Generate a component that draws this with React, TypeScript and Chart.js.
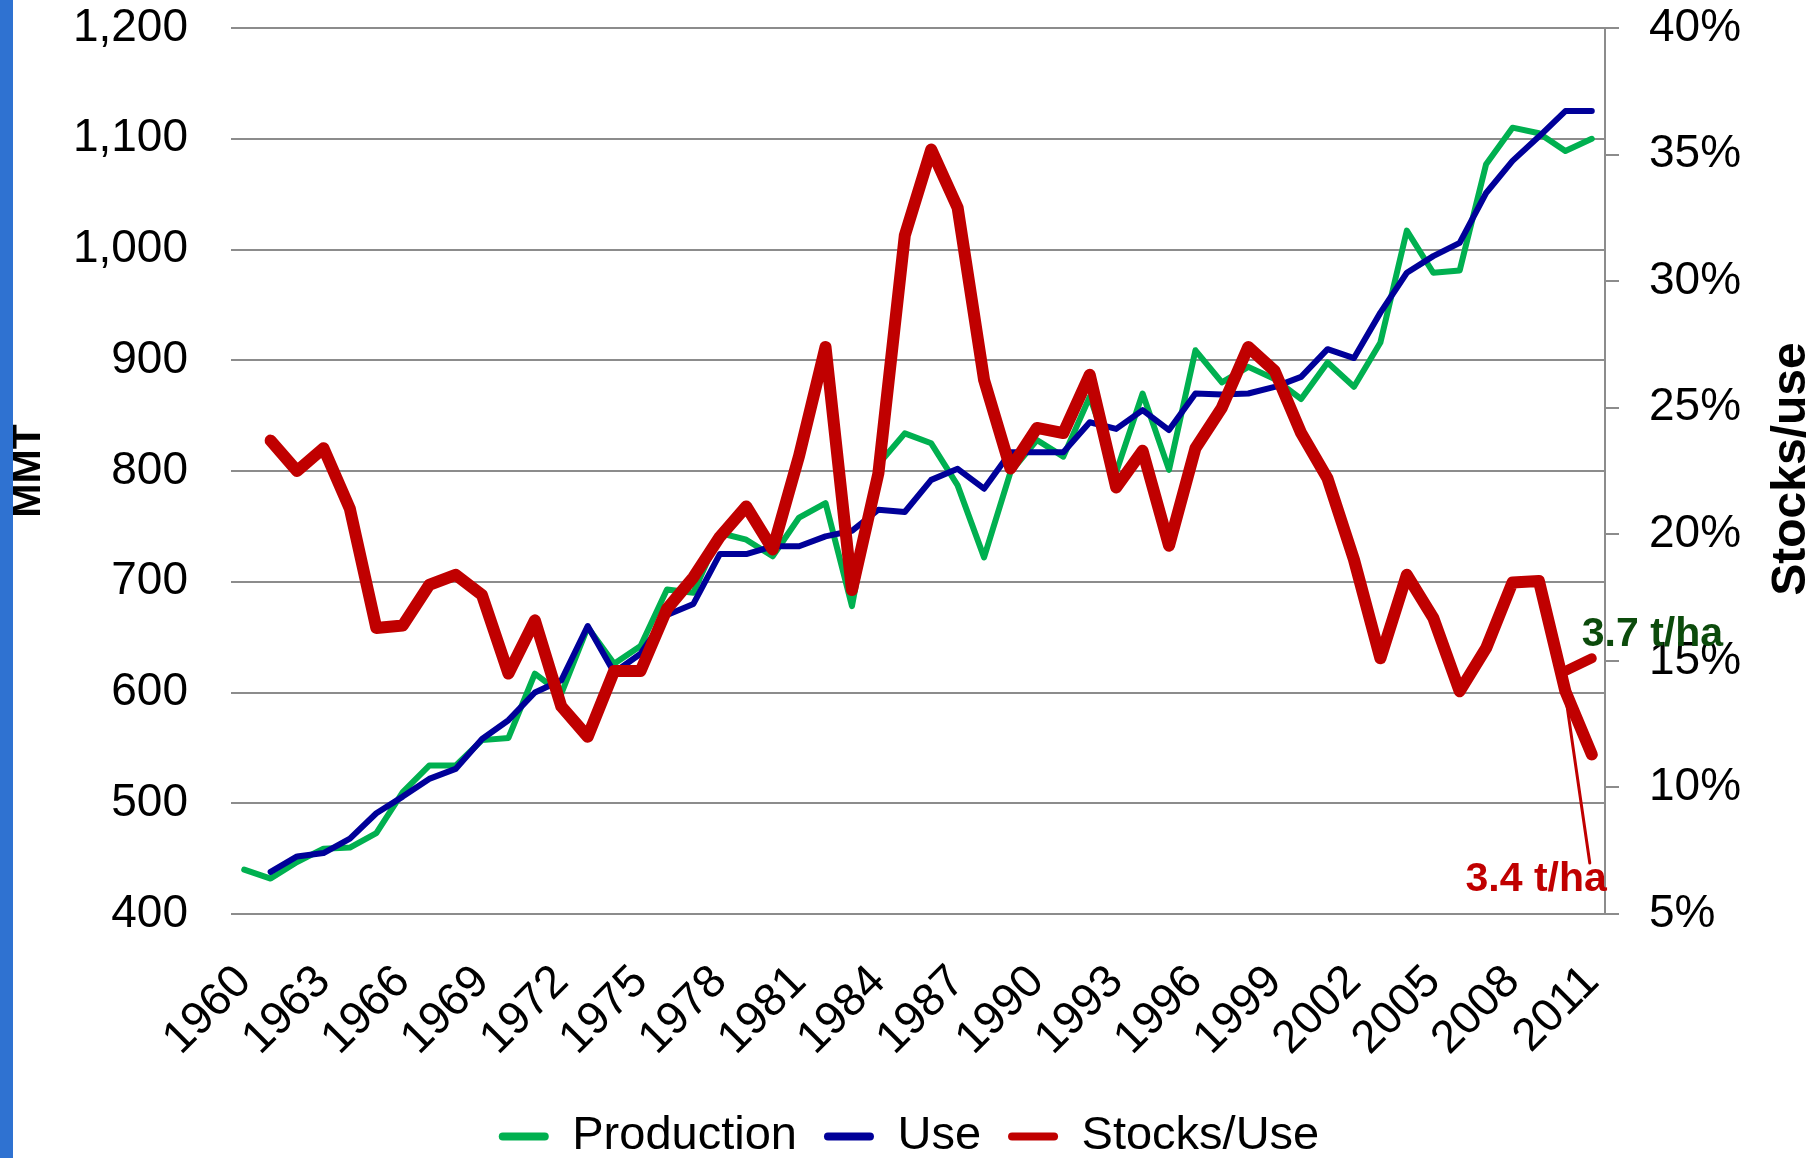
import React, { useEffect, useRef } from 'react';
import { Chart, registerables } from 'chart.js';

Chart.register(...registerables);

const FONT = '"Liberation Sans", Arial, Helvetica, sans-serif';

const years = [
  '1960', '1961', '1962', '1963', '1964', '1965', '1966', '1967', '1968', '1969',
  '1970', '1971', '1972', '1973', '1974', '1975', '1976', '1977', '1978', '1979',
  '1980', '1981', '1982', '1983', '1984', '1985', '1986', '1987', '1988', '1989',
  '1990', '1991', '1992', '1993', '1994', '1995', '1996', '1997', '1998', '1999',
  '2000', '2001', '2002', '2003', '2004', '2005', '2006', '2007', '2008', '2009',
  '2010', '2011',
];

// MMT (left axis)
const production = [
  440, 432, 447, 459, 460, 473, 510, 534, 534, 557,
  559, 617, 599, 659, 626, 642, 693, 690, 744, 738,
  723, 758, 771, 678, 806, 834, 825, 787, 722, 799,
  828, 813, 867, 799, 870, 801, 909, 880, 894, 883,
  865, 898, 876, 916, 1017, 979, 981, 1077, 1110, 1105,
  1089, 1100,
];

const use = [
  null, 438, 452, 455, 468, 491, 506, 522, 531, 558,
  575, 600, 611, 660, 618, 635, 670, 680, 725, 725,
  732, 732, 741, 746, 765, 763, 792, 802, 784, 817,
  817, 817, 844, 838, 855, 837, 870, 869, 870, 876,
  885, 910, 902, 943, 979, 994, 1006, 1051, 1080, 1102,
  1125, 1125,
];

// Stocks/use in percent (right axis)
const stocksToUse = [
  null, 23.7, 22.5, 23.4, 21.0, 16.3, 16.4, 18.0, 18.4, 17.6,
  14.5, 16.6, 13.2, 12.0, 14.6, 14.6, 17.05, 18.3, 19.9, 21.1,
  19.4, 23.1, 27.4, 17.8, 22.4, 31.8, 35.2, 32.9, 26.1, 22.6,
  24.2, 24.0, 26.3, 21.85, 23.3, 19.55, 23.4, 25.0, 27.4, 26.45,
  24.0, 22.2, 19.0, 15.1, 18.4, 16.7, 13.8, 15.5, 18.1, 18.15,
  13.8, 11.3,
];

// Alternative 2011 stocks/use path (3.7 t/ha yield)
const stocksScenario = [
  null, null, null, null, null, null, null, null, null, null,
  null, null, null, null, null, null, null, null, null, null,
  null, null, null, null, null, null, null, null, null, null,
  null, null, null, null, null, null, null, null, null, null,
  null, null, null, null, null, null, null, null, null, null,
  14.6, 15.1,
];

const seriesNames = ['Production', 'Use', 'Stocks/Use', '3.7 t/ha'];
const highLabel = '3.7 t/ha';
const lowLabel = '3.4 t/ha';
const leftTitle = 'MMT';
const rightTitle = 'Stocks/use';

const GREEN = '#00B050';
const BLUE = '#000099';
const RED = '#C00000';
const DARK_GREEN = '#0C4B0C';
const GRID = '#8C8C8C';

const overlayPlugin = {
  id: 'overlayText',
  afterDraw(chart: any) {
    const { ctx, chartArea, scales } = chart;
    const x = scales.x;
    const y1 = scales.y1;
    const last = years.length - 1;
    const px = x.getPixelForValue(last);
    ctx.save();

    // high yield label
    ctx.font = `bold 41px ${FONT}`;
    ctx.fillStyle = DARK_GREEN;
    ctx.textAlign = 'left';
    ctx.textBaseline = 'alphabetic';
    ctx.fillText(highLabel, px - 10, y1.getPixelForValue(stocksScenario[last] as number) - 12);

    // low yield label + leader line
    ctx.fillStyle = RED;
    ctx.textAlign = 'right';
    const lowBase = chartArea.bottom - 23;
    ctx.fillText(lowLabel, px + 15, lowBase);
    const sx = x.getPixelForValue(last - 1);
    const sy = y1.getPixelForValue(stocksToUse[last - 1] as number);
    ctx.strokeStyle = RED;
    ctx.lineWidth = 3;
    ctx.lineCap = 'round';
    ctx.beginPath();
    ctx.moveTo(sx + 1, sy + 10);
    ctx.lineTo(px - 2, lowBase - 28);
    ctx.stroke();

    // right axis title, reading bottom-to-top
    ctx.font = `bold 48px ${FONT}`;
    ctx.fillStyle = '#000';
    ctx.textAlign = 'center';
    ctx.textBaseline = 'middle';
    ctx.translate(chartArea.right + 187, (chartArea.top + chartArea.bottom) / 2 - 2);
    ctx.rotate(-Math.PI / 2);
    ctx.fillText(rightTitle, 0, 0);
    ctx.restore();
  },
};

export default function App() {
  const ref = useRef<HTMLCanvasElement>(null);

  useEffect(() => {
    document.body.style.margin = '0';
    Chart.defaults.font.family = FONT;
    const canvas = ref.current!;
    const chart = new Chart(canvas, {
      type: 'line',
      data: {
        labels: years,
        datasets: [
          {
            label: seriesNames[0],
            data: production,
            borderColor: GREEN,
            backgroundColor: GREEN,
            borderWidth: 6,
            pointRadius: 0,
            tension: 0,
            yAxisID: 'y',
            order: 2,
            borderJoinStyle: 'round',
            borderCapStyle: 'round',
          },
          {
            label: seriesNames[1],
            data: use,
            borderColor: BLUE,
            backgroundColor: BLUE,
            borderWidth: 6,
            pointRadius: 0,
            tension: 0,
            yAxisID: 'y',
            order: 1,
            borderJoinStyle: 'round',
            borderCapStyle: 'round',
          },
          {
            label: seriesNames[2],
            data: stocksToUse,
            borderColor: RED,
            backgroundColor: RED,
            borderWidth: 12,
            pointRadius: 0,
            tension: 0,
            yAxisID: 'y1',
            order: 0,
            borderJoinStyle: 'round',
            borderCapStyle: 'round',
          },
          {
            label: seriesNames[3],
            data: stocksScenario,
            borderColor: RED,
            backgroundColor: RED,
            borderWidth: 10,
            pointRadius: 0,
            tension: 0,
            yAxisID: 'y1',
            order: 0,
            borderJoinStyle: 'round',
            borderCapStyle: 'round',
          },
        ],
      } as any,
      options: {
        responsive: false,
        maintainAspectRatio: false,
        animation: false,
        devicePixelRatio: 1,
        layout: { padding: { top: 28, left: 0, right: 0, bottom: 0 } },
        plugins: {
          tooltip: { enabled: false },
          title: { display: false },
          legend: {
            display: true,
            position: 'bottom',
            labels: {
              color: '#000',
              font: { size: 47, family: FONT },
              boxWidth: 50,
              boxHeight: 8,
              padding: 27,
              useBorderRadius: true,
              borderRadius: 4,
              filter: (item: any) => item.datasetIndex < 3,
              sort: (a: any, b: any) => a.datasetIndex - b.datasetIndex,
              generateLabels: (c: any) =>
                (Chart.defaults.plugins.legend.labels.generateLabels as any)(c).map((l: any) => ({
                  ...l,
                  fillStyle: l.strokeStyle,
                  lineWidth: 0,
                })),
            },
          },
        },
        scales: {
          x: {
            type: 'category',
            offset: true,
            grid: { display: false },
            border: { display: false },
            ticks: {
              autoSkip: false,
              maxRotation: 45,
              minRotation: 45,
              padding: 33,
              color: '#000',
              font: { size: 46, family: FONT },
              callback: (_v: any, i: number) => (i % 3 === 0 ? years[i] : ''),
            },
            afterFit: (s: any) => {
              s.height = 172;
            },
          },
          y: {
            position: 'left',
            min: 400,
            max: 1200,
            ticks: {
              stepSize: 100,
              padding: 43,
              color: '#000',
              font: { size: 46, family: FONT },
              callback: (v: any) => Number(v).toLocaleString('en-US'),
            },
            grid: { color: GRID, lineWidth: 2, drawTicks: false },
            border: { display: false },
            title: {
              display: true,
              text: leftTitle,
              color: '#000',
              font: { size: 41, weight: 'bold', family: FONT },
              padding: { top: 4, bottom: 0 },
            },
            afterFit: (s: any) => {
              s.width = 231;
              s.paddingTop = 0;
              s.paddingBottom = 0;
            },
          },
          y1: {
            position: 'right',
            min: 5,
            max: 40,
            ticks: {
              stepSize: 5,
              padding: 30,
              color: '#000',
              font: { size: 46, family: FONT },
              callback: (v: any) => `${v}%`,
            },
            grid: {
              drawOnChartArea: false,
              drawTicks: true,
              tickLength: 14,
              color: GRID,
              lineWidth: 2,
            },
            border: { display: true, color: GRID, width: 2 },
            afterFit: (s: any) => {
              s.width = 213;
              s.paddingTop = 0;
              s.paddingBottom = 0;
            },
          },
        },
      } as any,
      plugins: [overlayPlugin],
    });
    return () => chart.destroy();
  }, []);

  return (
    <div style={{ position: 'relative', width: 1818, height: 1158, overflow: 'hidden', background: '#fff' }}>
      <canvas ref={ref} width={1818} height={1170} style={{ display: 'block', width: 1818, height: 1170 }} />
      <div style={{ position: 'absolute', left: 0, top: 0, width: 13, height: 1158, background: '#2F72D1' }} />
    </div>
  );
}
